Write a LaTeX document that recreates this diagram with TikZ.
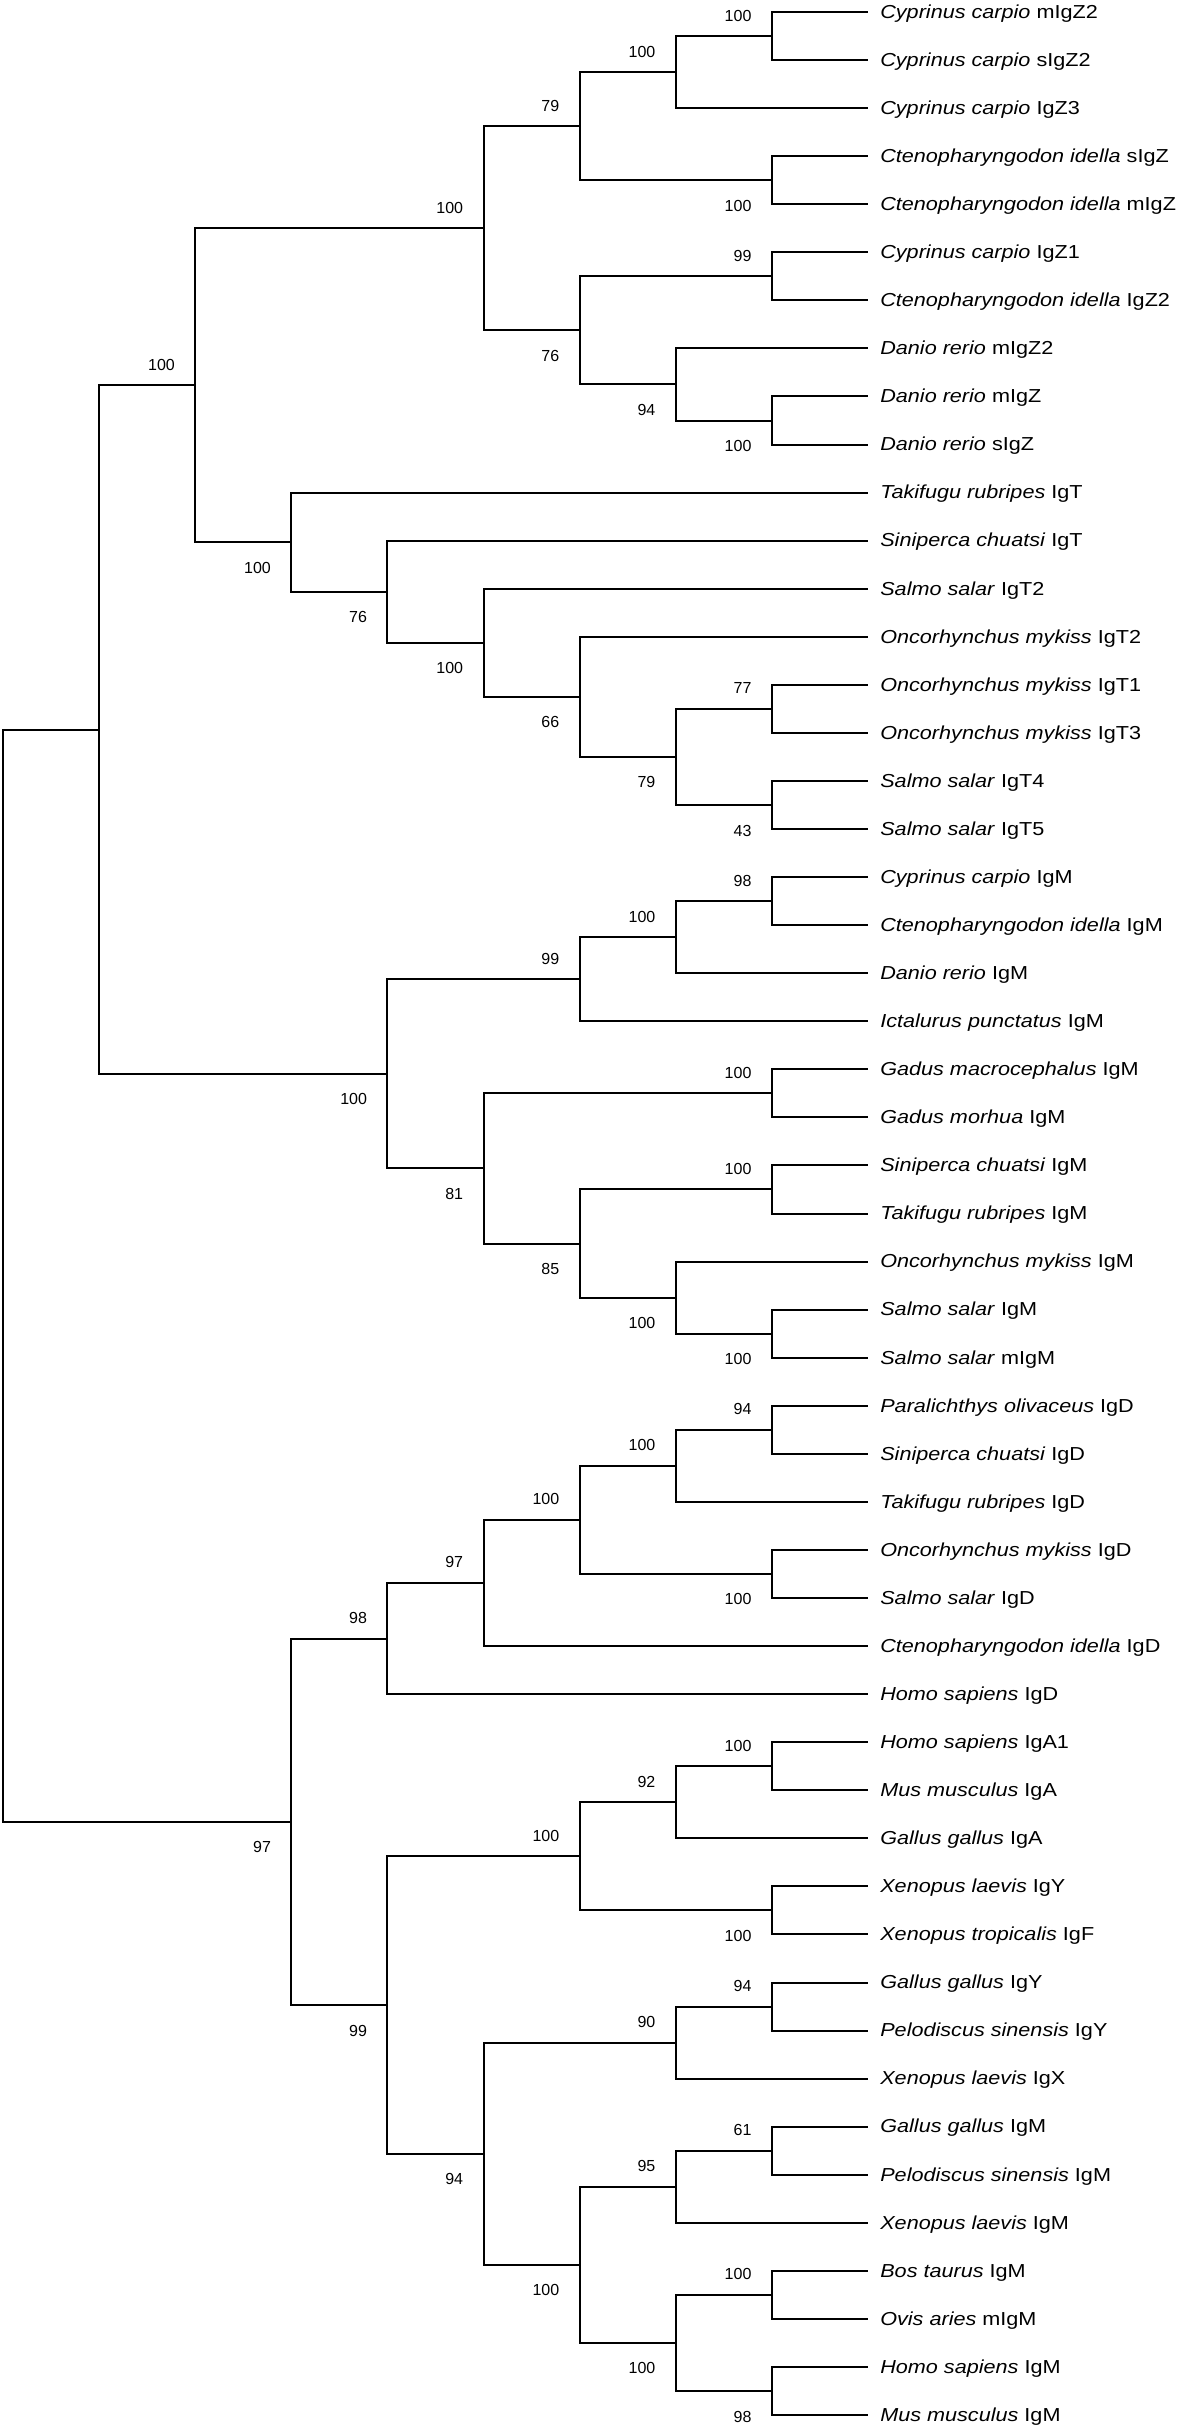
\documentclass[tikz,border=0pt]{standalone}
\usepackage{fontspec}
\setmainfont{Liberation Sans}
\newfontfamily\taxonfont[FakeStretch=1.15]{Liberation Sans}
\begin{document}
\begin{tikzpicture}[x=48.05pt,y=-24.03pt,
		branch/.style={line width=1pt},
		taxon/.style={anchor=west,inner xsep=6pt,inner ysep=0pt,text height=6.3pt,text depth=0pt,font=\taxonfont\fontsize{9.4pt}{11pt}\selectfont},
		bsup/.style={anchor=base east,inner sep=0pt,xshift=-10pt,yshift=7.5pt,font=\fontsize{8pt}{9pt}\selectfont},
		bsdown/.style={anchor=base east,inner sep=0pt,xshift=-10pt,yshift=-15.5pt,font=\fontsize{8pt}{9pt}\selectfont}]
		\useasboundingbox (-0.0312,-0.2497) rectangle (12.258,50.291);
		\coordinate (root) at (0,26.29297);
		\coordinate (upper) at (1,14.92969);
		\coordinate (lower) at (3,37.65625);
		\coordinate (zt) at (2,7.76563);
		\coordinate (z1) at (5,4.5);
		\coordinate (z2) at (6,2.375);
		\coordinate (z3) at (7,1.25);
		\coordinate (z4) at (8,0.5);
		\coordinate (z5) at (8,3.5);
		\coordinate (z6) at (6,6.625);
		\coordinate (z7) at (8,5.5);
		\coordinate (z8) at (7,7.75);
		\coordinate (z9) at (8,8.5);
		\coordinate (t1) at (3,11.03125);
		\coordinate (t2) at (4,12.0625);
		\coordinate (t3) at (5,13.125);
		\coordinate (t4) at (6,14.25);
		\coordinate (t5) at (7,15.5);
		\coordinate (t6) at (8,14.5);
		\coordinate (t7) at (8,16.5);
		\coordinate (m1) at (4,22.09375);
		\coordinate (m2) at (6,20.125);
		\coordinate (m3) at (7,19.25);
		\coordinate (m4) at (8,18.5);
		\coordinate (m5) at (5,24.0625);
		\coordinate (m6) at (8,22.5);
		\coordinate (m7) at (6,25.625);
		\coordinate (m8) at (8,24.5);
		\coordinate (m9) at (7,26.75);
		\coordinate (m10) at (8,27.5);
		\coordinate (d1) at (4,33.84375);
		\coordinate (d2) at (5,32.6875);
		\coordinate (d3) at (6,31.375);
		\coordinate (d4) at (7,30.25);
		\coordinate (d5) at (8,29.5);
		\coordinate (d6) at (8,32.5);
		\coordinate (v1) at (4,41.46875);
		\coordinate (v2) at (6,38.375);
		\coordinate (v3) at (7,37.25);
		\coordinate (v4) at (8,36.5);
		\coordinate (v5) at (8,39.5);
		\coordinate (v6) at (5,44.5625);
		\coordinate (v7) at (7,42.25);
		\coordinate (v8) at (8,41.5);
		\coordinate (v9) at (6,46.875);
		\coordinate (v10) at (7,45.25);
		\coordinate (v11) at (8,44.5);
		\coordinate (v12) at (7,48.5);
		\coordinate (v13) at (8,47.5);
		\coordinate (v14) at (8,49.5);

		\node[taxon] (s1) at (9,0) {\textit{Cyprinus carpio} mIgZ2};
		\node[taxon] (s2) at (9,1) {\textit{Cyprinus carpio} sIgZ2};
		\node[taxon] (s3) at (9,2) {\textit{Cyprinus carpio} IgZ3};
		\node[taxon] (s4) at (9,3) {\textit{Ctenopharyngodon idella} sIgZ};
		\node[taxon] (s5) at (9,4) {\textit{Ctenopharyngodon idella} mIgZ};
		\node[taxon] (s6) at (9,5) {\textit{Cyprinus carpio} IgZ1};
		\node[taxon] (s7) at (9,6) {\textit{Ctenopharyngodon idella} IgZ2};
		\node[taxon] (s8) at (9,7) {\textit{Danio rerio} mIgZ2};
		\node[taxon] (s9) at (9,8) {\textit{Danio rerio} mIgZ};
		\node[taxon] (s10) at (9,9) {\textit{Danio rerio} sIgZ};
		\node[taxon] (s11) at (9,10) {\textit{Takifugu rubripes} IgT};
		\node[taxon] (s12) at (9,11) {\textit{Siniperca chuatsi} IgT};
		\node[taxon] (s13) at (9,12) {\textit{Salmo salar} IgT2};
		\node[taxon] (s14) at (9,13) {\textit{Oncorhynchus mykiss} IgT2};
		\node[taxon] (s15) at (9,14) {\textit{Oncorhynchus mykiss} IgT1};
		\node[taxon] (s16) at (9,15) {\textit{Oncorhynchus mykiss} IgT3};
		\node[taxon] (s17) at (9,16) {\textit{Salmo salar} IgT4};
		\node[taxon] (s18) at (9,17) {\textit{Salmo salar} IgT5};
		\node[taxon] (s19) at (9,18) {\textit{Cyprinus carpio} IgM};
		\node[taxon] (s20) at (9,19) {\textit{Ctenopharyngodon idella} IgM};
		\node[taxon] (s21) at (9,20) {\textit{Danio rerio} IgM};
		\node[taxon] (s22) at (9,21) {\textit{Ictalurus punctatus} IgM};
		\node[taxon] (s23) at (9,22) {\textit{Gadus macrocephalus} IgM};
		\node[taxon] (s24) at (9,23) {\textit{Gadus morhua} IgM};
		\node[taxon] (s25) at (9,24) {\textit{Siniperca chuatsi} IgM};
		\node[taxon] (s26) at (9,25) {\textit{Takifugu rubripes} IgM};
		\node[taxon] (s27) at (9,26) {\textit{Oncorhynchus mykiss} IgM};
		\node[taxon] (s28) at (9,27) {\textit{Salmo salar} IgM};
		\node[taxon] (s29) at (9,28) {\textit{Salmo salar} mIgM};
		\node[taxon] (s30) at (9,29) {\textit{Paralichthys olivaceus} IgD};
		\node[taxon] (s31) at (9,30) {\textit{Siniperca chuatsi} IgD};
		\node[taxon] (s32) at (9,31) {\textit{Takifugu rubripes} IgD};
		\node[taxon] (s33) at (9,32) {\textit{Oncorhynchus mykiss} IgD};
		\node[taxon] (s34) at (9,33) {\textit{Salmo salar} IgD};
		\node[taxon] (s35) at (9,34) {\textit{Ctenopharyngodon idella} IgD};
		\node[taxon] (s36) at (9,35) {\textit{Homo sapiens} IgD};
		\node[taxon] (s37) at (9,36) {\textit{Homo sapiens} IgA1};
		\node[taxon] (s38) at (9,37) {\textit{Mus musculus} IgA};
		\node[taxon] (s39) at (9,38) {\textit{Gallus gallus} IgA};
		\node[taxon] (s40) at (9,39) {\textit{Xenopus laevis} IgY};
		\node[taxon] (s41) at (9,40) {\textit{Xenopus tropicalis} IgF};
		\node[taxon] (s42) at (9,41) {\textit{Gallus gallus} IgY};
		\node[taxon] (s43) at (9,42) {\textit{Pelodiscus sinensis} IgY};
		\node[taxon] (s44) at (9,43) {\textit{Xenopus laevis} IgX};
		\node[taxon] (s45) at (9,44) {\textit{Gallus gallus} IgM};
		\node[taxon] (s46) at (9,45) {\textit{Pelodiscus sinensis} IgM};
		\node[taxon] (s47) at (9,46) {\textit{Xenopus laevis} IgM};
		\node[taxon] (s48) at (9,47) {\textit{Bos taurus} IgM};
		\node[taxon] (s49) at (9,48) {\textit{Ovis aries} mIgM};
		\node[taxon] (s50) at (9,49) {\textit{Homo sapiens} IgM};
		\node[taxon] (s51) at (9,50) {\textit{Mus musculus} IgM};

		\draw[branch] (root) |- (upper) (root) |- (lower);
		\draw[branch] (upper) |- (zt) (upper) |- (m1);
		\draw[branch] (zt) |- (z1) (zt) |- (t1);
		\draw[branch] (z1) |- (z2) (z1) |- (z6);
		\draw[branch] (z2) |- (z3) (z2) |- (z5);
		\draw[branch] (z3) |- (z4) (z3) |- (s3.west);
		\draw[branch] (z4) |- (s1.west) (z4) |- (s2.west);
		\draw[branch] (z5) |- (s4.west) (z5) |- (s5.west);
		\draw[branch] (z6) |- (z7) (z6) |- (z8);
		\draw[branch] (z7) |- (s6.west) (z7) |- (s7.west);
		\draw[branch] (z8) |- (s8.west) (z8) |- (z9);
		\draw[branch] (z9) |- (s9.west) (z9) |- (s10.west);
		\draw[branch] (t1) |- (s11.west) (t1) |- (t2);
		\draw[branch] (t2) |- (s12.west) (t2) |- (t3);
		\draw[branch] (t3) |- (s13.west) (t3) |- (t4);
		\draw[branch] (t4) |- (s14.west) (t4) |- (t5);
		\draw[branch] (t5) |- (t6) (t5) |- (t7);
		\draw[branch] (t6) |- (s15.west) (t6) |- (s16.west);
		\draw[branch] (t7) |- (s17.west) (t7) |- (s18.west);
		\draw[branch] (m1) |- (m2) (m1) |- (m5);
		\draw[branch] (m2) |- (m3) (m2) |- (s22.west);
		\draw[branch] (m3) |- (m4) (m3) |- (s21.west);
		\draw[branch] (m4) |- (s19.west) (m4) |- (s20.west);
		\draw[branch] (m5) |- (m6) (m5) |- (m7);
		\draw[branch] (m6) |- (s23.west) (m6) |- (s24.west);
		\draw[branch] (m7) |- (m8) (m7) |- (m9);
		\draw[branch] (m8) |- (s25.west) (m8) |- (s26.west);
		\draw[branch] (m9) |- (s27.west) (m9) |- (m10);
		\draw[branch] (m10) |- (s28.west) (m10) |- (s29.west);
		\draw[branch] (lower) |- (d1) (lower) |- (v1);
		\draw[branch] (d1) |- (d2) (d1) |- (s36.west);
		\draw[branch] (d2) |- (d3) (d2) |- (s35.west);
		\draw[branch] (d3) |- (d4) (d3) |- (d6);
		\draw[branch] (d4) |- (d5) (d4) |- (s32.west);
		\draw[branch] (d5) |- (s30.west) (d5) |- (s31.west);
		\draw[branch] (d6) |- (s33.west) (d6) |- (s34.west);
		\draw[branch] (v1) |- (v2) (v1) |- (v6);
		\draw[branch] (v2) |- (v3) (v2) |- (v5);
		\draw[branch] (v3) |- (v4) (v3) |- (s39.west);
		\draw[branch] (v4) |- (s37.west) (v4) |- (s38.west);
		\draw[branch] (v5) |- (s40.west) (v5) |- (s41.west);
		\draw[branch] (v6) |- (v7) (v6) |- (v9);
		\draw[branch] (v7) |- (v8) (v7) |- (s44.west);
		\draw[branch] (v8) |- (s42.west) (v8) |- (s43.west);
		\draw[branch] (v9) |- (v10) (v9) |- (v12);
		\draw[branch] (v10) |- (v11) (v10) |- (s47.west);
		\draw[branch] (v11) |- (s45.west) (v11) |- (s46.west);
		\draw[branch] (v12) |- (v13) (v12) |- (v14);
		\draw[branch] (v13) |- (s48.west) (v13) |- (s49.west);
		\draw[branch] (v14) |- (s50.west) (v14) |- (s51.west);

		\node[bsup] (bz4) at (z4) {100};
		\node[bsup] (bz3) at (z3) {100};
		\node[bsup] (bz2) at (z2) {79};
		\node[bsdown] (bz5) at (z5) {100};
		\node[bsup] (bz1) at (z1) {100};
		\node[bsup] (bz7) at (z7) {99};
		\node[bsdown] (bz6) at (z6) {76};
		\node[bsdown] (bz8) at (z8) {94};
		\node[bsdown] (bz9) at (z9) {100};
		\node[bsup] (bzt) at (zt) {100};
		\node[bsdown] (bt1) at (t1) {100};
		\node[bsdown] (bt2) at (t2) {76};
		\node[bsdown] (bt3) at (t3) {100};
		\node[bsdown] (bt4) at (t4) {66};
		\node[bsdown] (bt5) at (t5) {79};
		\node[bsup] (bt6) at (t6) {77};
		\node[bsdown] (bt7) at (t7) {43};
		\node[bsup] (bm4) at (m4) {98};
		\node[bsup] (bm3) at (m3) {100};
		\node[bsup] (bm2) at (m2) {99};
		\node[bsdown] (bm1) at (m1) {100};
		\node[bsup] (bm6) at (m6) {100};
		\node[bsdown] (bm5) at (m5) {81};
		\node[bsup] (bm8) at (m8) {100};
		\node[bsdown] (bm7) at (m7) {85};
		\node[bsdown] (bm9) at (m9) {100};
		\node[bsdown] (bm10) at (m10) {100};
		\node[bsdown] (blower) at (lower) {97};
		\node[bsup] (bd1) at (d1) {98};
		\node[bsup] (bd2) at (d2) {97};
		\node[bsup] (bd3) at (d3) {100};
		\node[bsup] (bd4) at (d4) {100};
		\node[bsup] (bd5) at (d5) {94};
		\node[bsdown] (bd6) at (d6) {100};
		\node[bsdown] (bv1) at (v1) {99};
		\node[bsup] (bv2) at (v2) {100};
		\node[bsup] (bv3) at (v3) {92};
		\node[bsup] (bv4) at (v4) {100};
		\node[bsdown] (bv5) at (v5) {100};
		\node[bsdown] (bv6) at (v6) {94};
		\node[bsup] (bv7) at (v7) {90};
		\node[bsup] (bv8) at (v8) {94};
		\node[bsdown] (bv9) at (v9) {100};
		\node[bsup] (bv10) at (v10) {95};
		\node[bsup] (bv11) at (v11) {61};
		\node[bsdown] (bv12) at (v12) {100};
		\node[bsup] (bv13) at (v13) {100};
		\node[bsdown] (bv14) at (v14) {98};
	\end{tikzpicture}
\end{document}
